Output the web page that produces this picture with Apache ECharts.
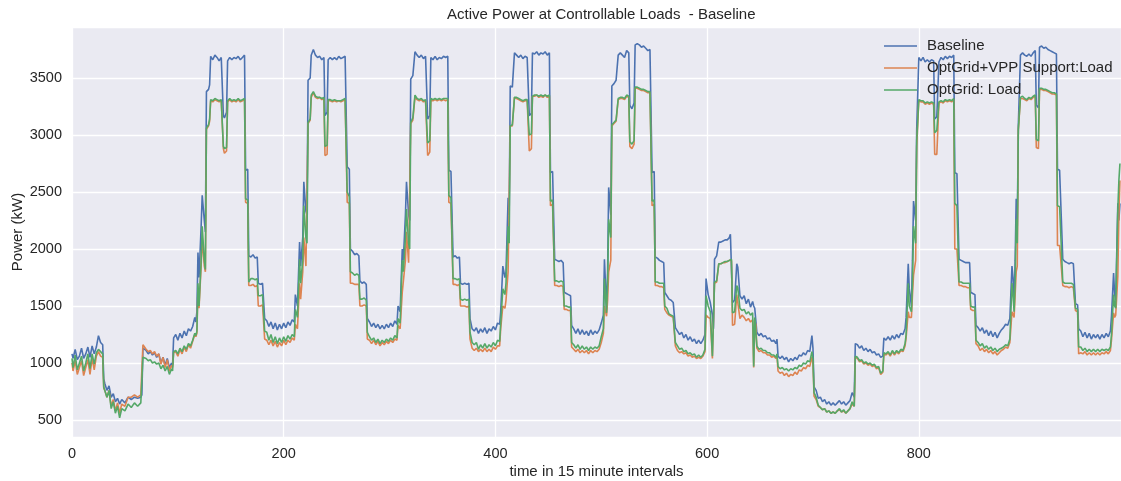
<!DOCTYPE html>
<html><head><meta charset="utf-8">
<script src="https://cdn.jsdelivr.net/npm/echarts@6/dist/echarts.min.js"></script>
<style>html,body{margin:0;padding:0;background:#fff}#c{width:1121px;height:481px}</style>
</head><body><div id="c"></div>
<script>
// time step (15-min interval) at which each reading was taken
const xs = [0,1,3,5,7,9,11,13,15,17,19,21,23,25,27,29,
30,31,33,35,37,39,41,43,45,47,50,53,56,59,62,65,66,
67,70,72,74,76,78,80,82,84,86,88,90,92,94,95,
96,98,100,102,104,106,108,110,112,114,116,117,118,
119,120,122,123,125,126,127,
129,130,131,133,135,137,139,141,142,143,144,146,147,149,151,153,155,157,159,161,163,164,166,167,
169,171,173,175,176,178,180,181,182,184,186,188,190,192,194,196,198,200,202,204,206,208,210,
211,213,215,216,218,219,221,222,223,225,226,228,230,232,234,236,238,239,241,242,244,246,248,250,252,254,256,258,259,260,262,263,
265,267,269,271,272,274,276,278,279,281,283,285,287,289,291,293,295,297,299,301,303,305,307,
308,310,312,313,315,316,318,319,320,322,324,326,328,330,332,334,335,336,338,339,341,343,345,347,349,351,353,355,356,358,360,
362,364,366,367,369,371,373,375,376,378,380,382,384,386,388,390,392,394,396,398,400,402,404,
405,407,409,410,412,413,414,416,418,420,422,424,426,428,430,431,432,434,435,437,439,441,443,445,447,449,451,452,454,456,
458,460,462,464,465,467,469,471,472,474,476,478,480,482,484,486,488,490,492,494,496,498,500,502,
503,505,506,507,509,510,512,514,516,518,520,522,524,526,527,529,531,532,534,536,538,540,542,544,546,547,548,550,551,
553,555,557,559,560,562,564,566,568,570,572,574,576,578,580,582,584,586,588,590,592,594,596,598,
599,601,603,605,606,607,609,611,613,615,617,619,621,622,623,624,626,628,629,631,633,635,637,639,641,643,644,645,646,
647,649,651,653,655,657,659,661,663,665,666,667,669,671,673,675,677,679,681,683,685,687,689,691,693,695,697,699,700,
701,703,705,707,709,711,713,715,717,719,721,723,725,727,729,731,733,735,737,739,
740,742,744,746,748,750,752,754,756,758,760,762,764,766,767,769,771,773,775,777,779,781,783,785,787,788,
790,791,793,794,795,797,798,800,802,804,806,808,810,812,814,815,817,819,821,823,825,827,829,831,833,834,836,838,
840,842,844,846,848,849,851,853,854,856,858,860,862,864,866,868,870,872,874,876,878,880,882,884,886,
888,889,890,891,892,893,894,896,898,900,902,904,906,908,910,911,913,914,916,918,920,922,924,926,928,930,931,933,936,
938,940,942,944,946,948,950,951,953,955,957,959,961,963,965,967,969,971,973,975,977,979,981,982,984,985,986,988,989,990];

const baseline = [1080,1040,1120,1030,1060,1130,1040,1080,1140,1050,1150,1080,1140,1240,1180,1160,
860,820,760,800,700,730,660,690,640,680,650,700,680,700,690,700,720,
1130,1110,1080,1100,1070,1090,1050,1080,1000,1050,980,1040,960,1000,980,
1220,1250,1200,1260,1220,1280,1240,1300,1280,1320,1400,1360,1450,
1970,1750,2200,2470,2250,2150,3380,
3400,3440,3690,3660,3700,3680,3650,3680,3670,3170,3150,3200,3650,3680,3660,3680,3670,3690,3660,3680,3700,2690,2700,1940,
1930,1950,1920,1930,1700,1690,1700,1690,1390,1370,1320,1360,1300,1350,1290,1340,1300,1350,1310,1360,1330,1380,1360,
1600,1500,2060,1850,2100,2590,2330,2300,3480,3500,3700,3750,3700,3680,3690,3660,3680,3170,3200,3660,3680,3660,3680,3660,3690,3670,3680,3690,3700,2720,2700,2000,
1980,1950,1960,1940,1720,1700,1710,1690,1390,1360,1320,1350,1310,1340,1300,1330,1300,1340,1310,1350,1320,1370,1340,
1500,1450,2000,1900,2300,2590,2300,2250,3490,3520,3730,3700,3680,3700,3670,3690,3680,3140,3170,3680,3660,3690,3660,3680,3670,3690,3680,3690,2690,2680,1930,
1940,1920,1930,1700,1690,1700,1690,1700,1390,1300,1280,1310,1260,1300,1270,1310,1260,1300,1280,1320,1290,1350,1340,
1450,1850,1750,1800,2450,2300,3430,3420,3720,3700,3680,3700,3670,3690,3680,3690,3170,3190,3720,3710,3730,3700,3720,3710,3730,3700,3720,2670,2680,1910,
1900,1890,1900,1880,1620,1610,1600,1590,1330,1300,1260,1300,1250,1290,1250,1280,1240,1290,1250,1280,1260,1290,1350,1420,
1910,1470,1800,2540,2300,3430,3450,3480,3700,3720,3700,3680,3740,3720,3260,3230,3280,3790,3800,3790,3770,3780,3760,3740,3750,3740,2670,2680,1930,
1920,1900,1890,1880,1620,1590,1560,1550,1530,1310,1280,1250,1270,1220,1250,1200,1230,1190,1210,1170,1200,1170,1200,1250,
1740,1600,1530,1420,1300,1910,1940,2060,2060,2070,2080,2080,2100,2130,2120,1530,1550,1870,1840,1590,1560,1590,1520,1560,1490,1540,1500,1480,1470,
1270,1240,1260,1230,1240,1210,1220,1190,1200,1170,1210,1060,1040,1060,1030,1050,1010,1040,1020,1050,1030,1070,1060,1090,1070,1110,1100,1240,1130,
790,760,690,700,660,680,640,660,630,650,630,650,670,640,660,630,650,670,740,700,
1170,1160,1130,1150,1110,1130,1100,1120,1090,1100,1070,1080,1050,1060,1220,1200,1230,1200,1240,1210,1250,1220,1260,1250,1300,1400,
1870,1650,1500,1900,2420,2250,3050,3680,3650,3680,3640,3660,3640,3660,3650,3140,3160,3640,3680,3660,3690,3670,3690,3680,3700,2670,2660,1910,
1900,1890,1880,1880,1880,1620,1610,1600,1330,1310,1280,1310,1260,1290,1240,1280,1230,1270,1220,1260,1290,1310,1340,1330,1390,
1850,1750,1500,1900,2440,2200,3080,3700,3720,3700,3690,3710,3690,3720,3740,3260,3240,3770,3780,3760,3770,3750,3740,3730,3720,3710,2700,2690,1910,
1890,1880,1870,1880,1870,1520,1510,1300,1280,1230,1270,1220,1260,1210,1250,1220,1250,1210,1250,1220,1260,1230,1280,1410,1790,1600,1550,2400,2250,2400];

const vppLoad = [1000,930,1020,900,960,1020,890,960,1030,900,1040,940,1060,1100,1060,1050,
780,760,700,760,620,680,580,650,560,640,620,700,700,720,700,720,730,
1160,1120,1100,1110,1080,1100,1060,1080,990,1050,960,1030,930,980,960,
1090,1100,1060,1120,1080,1140,1100,1160,1130,1190,1250,1230,1260,
1650,1480,1850,2100,1850,1800,3050,
3080,3120,3300,3290,3310,3300,3290,3300,3290,2880,2840,2860,3290,3310,3290,3300,3290,3310,3290,3300,3310,2410,2400,1680,
1680,1690,1670,1680,1500,1500,1510,1500,1210,1200,1160,1200,1150,1190,1140,1180,1150,1200,1160,1200,1180,1220,1200,
1340,1300,1700,1560,1800,2100,1850,1860,3100,3130,3330,3370,3330,3320,3330,3310,3320,2820,2830,3300,3300,3290,3300,3290,3300,3290,3300,3310,3320,2410,2400,1700,
1700,1690,1690,1690,1500,1500,1510,1500,1210,1200,1170,1200,1160,1190,1150,1180,1160,1190,1170,1200,1180,1210,1200,
1330,1300,1620,1620,1900,2150,1880,1880,3100,3130,3330,3310,3300,3310,3290,3300,3300,2820,2850,3300,3300,3310,3300,3310,3300,3310,3300,3310,2410,2400,1690,
1690,1680,1690,1500,1500,1500,1490,1500,1210,1130,1110,1130,1100,1120,1100,1130,1100,1120,1100,1140,1120,1150,1150,
1300,1500,1480,1550,1800,1790,3080,3080,3330,3320,3310,3300,3290,3300,3300,3310,2860,2880,3340,3340,3350,3330,3340,3330,3350,3330,3340,2380,2390,1680,
1680,1670,1680,1670,1470,1470,1460,1460,1140,1120,1100,1120,1090,1110,1090,1110,1080,1110,1090,1110,1100,1120,1180,1260,
1500,1410,1550,1800,1900,3080,3100,3120,3310,3320,3320,3310,3340,3330,2900,2880,2920,3410,3410,3400,3390,3390,3380,3370,3370,3370,2380,2390,1680,
1680,1670,1670,1660,1470,1440,1420,1410,1400,1150,1110,1090,1100,1080,1090,1060,1070,1050,1060,1040,1050,1040,1060,1100,
1420,1400,1390,1040,1040,1700,1710,1870,1870,1880,1880,1890,1900,1910,1900,1330,1340,1600,1590,1390,1420,1400,1370,1390,1360,1380,960,1360,1340,
1130,1100,1110,1090,1090,1070,1070,1050,1060,1040,1060,930,910,920,890,910,880,900,890,920,900,940,930,960,950,980,970,1050,1000,
710,680,620,610,590,600,570,580,560,570,560,580,590,570,580,560,580,600,640,620,
1050,1040,1010,1020,990,1000,980,990,970,980,950,960,900,920,1080,1070,1090,1060,1100,1070,1100,1080,1110,1100,1150,1220,
1450,1400,1400,1600,1770,1900,2900,3300,3290,3290,3270,3280,3270,3280,3270,2830,2830,3280,3290,3280,3300,3290,3300,3290,3310,2000,2000,1680,
1680,1670,1670,1660,1660,1470,1460,1460,1170,1150,1110,1130,1100,1120,1090,1110,1080,1100,1070,1090,1110,1120,1140,1130,1180,
1450,1440,1400,1600,1800,1850,3040,3320,3320,3310,3300,3320,3310,3330,3340,2890,2880,3400,3400,3390,3390,3380,3370,3360,3360,3350,2030,2030,1680,
1670,1670,1660,1670,1660,1460,1450,1080,1090,1080,1100,1070,1090,1070,1090,1070,1090,1070,1090,1080,1100,1080,1110,1200,1440,1400,1420,1760,2300,2600];

const optLoad = [1040,960,1070,940,1000,1060,930,1000,1080,950,1080,990,1090,1120,1100,1080,
790,790,700,760,600,660,560,620,520,600,580,640,610,650,620,650,660,
1050,1040,1020,1030,1000,1010,990,1000,950,980,930,970,900,950,930,
1100,1110,1080,1130,1100,1150,1120,1170,1150,1200,1260,1240,1280,
1700,1500,1900,2200,1900,1820,3060,
3090,3140,3310,3300,3320,3310,3300,3310,3300,2900,2880,2890,3300,3320,3300,3310,3300,3320,3300,3310,3320,2440,2430,1710,
1740,1740,1730,1740,1590,1590,1600,1590,1280,1270,1200,1250,1180,1230,1170,1220,1180,1230,1190,1240,1210,1250,1230,
1470,1400,1910,1700,1900,2380,2100,2050,3110,3140,3350,3380,3340,3330,3330,3320,3330,2900,2910,3310,3310,3300,3310,3300,3300,3300,3310,3320,3330,2500,2460,1800,
1790,1770,1780,1770,1560,1560,1570,1550,1270,1230,1200,1220,1180,1210,1170,1200,1180,1210,1190,1220,1200,1240,1220,
1390,1350,1900,1800,2100,2350,2050,2000,3110,3150,3350,3320,3310,3320,3300,3310,3300,2930,2950,3320,3310,3320,3310,3320,3310,3320,3320,3320,2470,2450,1740,
1740,1730,1740,1560,1550,1560,1550,1560,1270,1180,1160,1180,1120,1160,1130,1170,1130,1160,1140,1180,1150,1200,1190,
1350,1650,1600,1700,2200,2050,3080,3090,3330,3330,3320,3310,3300,3310,3310,3310,3000,3010,3340,3350,3350,3340,3350,3340,3350,3340,3350,2420,2430,1720,
1720,1710,1720,1710,1500,1500,1490,1490,1180,1160,1130,1160,1120,1150,1120,1140,1110,1140,1120,1140,1130,1150,1230,1300,
1740,1440,1700,2260,2100,3090,3110,3130,3320,3330,3330,3320,3350,3340,2940,2920,2950,3420,3420,3410,3400,3400,3390,3380,3380,3380,2420,2430,1710,
1710,1700,1700,1700,1500,1480,1430,1420,1410,1180,1150,1120,1130,1100,1110,1080,1090,1070,1080,1050,1070,1050,1070,1120,
1590,1500,1450,1060,1050,1710,1720,1870,1870,1880,1890,1890,1900,1910,1910,1440,1450,1680,1660,1480,1460,1470,1430,1450,1420,1440,970,1400,1390,
1150,1120,1130,1110,1110,1090,1090,1070,1070,1050,1080,970,950,960,940,950,930,950,940,960,950,980,970,1000,990,1020,1010,1100,1040,
740,700,630,610,590,600,570,580,560,570,560,580,600,570,590,560,580,600,660,620,
1060,1050,1020,1030,1000,1010,990,1000,980,990,960,970,910,930,1090,1080,1100,1070,1110,1080,1110,1090,1120,1110,1170,1250,
1700,1500,1450,1700,2200,2050,2950,3310,3300,3300,3280,3290,3280,3290,3280,3020,3040,3290,3300,3290,3310,3300,3310,3300,3320,2400,2380,1710,
1710,1700,1700,1700,1700,1500,1490,1490,1200,1180,1150,1170,1130,1150,1120,1140,1110,1130,1100,1120,1130,1140,1160,1150,1210,
1700,1600,1450,1700,2260,2050,3050,3330,3340,3320,3310,3330,3320,3340,3350,2960,2950,3410,3410,3400,3400,3390,3380,3370,3370,3360,2380,2370,1710,
1700,1700,1700,1700,1690,1480,1470,1140,1140,1110,1130,1100,1120,1100,1120,1100,1120,1100,1120,1110,1120,1110,1140,1250,1600,1500,1480,2350,2600,2750];

const seriesNames = ['Baseline', 'OptGrid+VPP Support:Load', 'OptGrid: Load'];
const seriesColors = ['#4C72B0', '#DD8452', '#55A868'];
const xTicks = [0, 200, 400, 600, 800];

function pts(vals){ return xs.map((x,i)=>[x, vals[i]]); }

const chart = echarts.init(document.getElementById('c'), null, {renderer:'canvas'});
const font = '"Liberation Sans", Arial, sans-serif';
const txt = '#262626';
chart.setOption({
  animation:false,
  backgroundColor:'#ffffff',
  title:{text:'Active Power at Controllable Loads  - Baseline', left:447, top:7, padding:0,
    textStyle:{fontFamily:font, fontSize:15, fontWeight:'normal', color:txt}},
  legend:{orient:'vertical', left:884, top:38, padding:0, icon:'rect', itemWidth:33, itemHeight:1.5, itemGap:6,
    data:seriesNames,
    textStyle:{fontFamily:font, fontSize:15, color:txt, lineHeight:16, padding:[0,0,0,5]}},
  grid:{left:72, right:0, top:27, bottom:44, show:true, backgroundColor:'#EAEAF2', borderWidth:0,
    containLabel:false, outerBoundsMode:'none'},
  xAxis:{type:'value', min:0, max:991, interval:200,
    name:'time in 15 minute intervals', nameLocation:'middle', nameGap:27, nameMoveOverlap:false,
    nameTextStyle:{fontFamily:font, fontSize:15, color:txt},
    axisLine:{show:false}, axisTick:{show:false},
    axisLabel:{fontFamily:font, fontSize:14.5, color:txt, margin:9, showMaxLabel:false,
      formatter:v=>xTicks.includes(v)?String(v):''},
    splitLine:{show:true, lineStyle:{color:'#ffffff', width:1.3}}},
  yAxis:{type:'value', min:351, max:3947, splitNumber:7,
    name:'Power (kW)', nameLocation:'middle', nameGap:47, nameMoveOverlap:false,
    nameTextStyle:{fontFamily:font, fontSize:15, color:txt},
    axisLine:{show:false}, axisTick:{show:false},
    axisLabel:{fontFamily:font, fontSize:14.5, color:txt, margin:10, showMinLabel:false, showMaxLabel:false,
      formatter:v=>String(Math.round(v))},
    splitLine:{show:true, lineStyle:{color:'#ffffff', width:1.3}}},
  series:[baseline, vppLoad, optLoad].map((vals,i)=>({
    name:seriesNames[i], type:'line', data:pts(vals), showSymbol:false, symbol:'none',
    lineStyle:{width:1.6, color:seriesColors[i]}, itemStyle:{color:seriesColors[i]}, z:2+i
  }))
});
</script></body></html>
